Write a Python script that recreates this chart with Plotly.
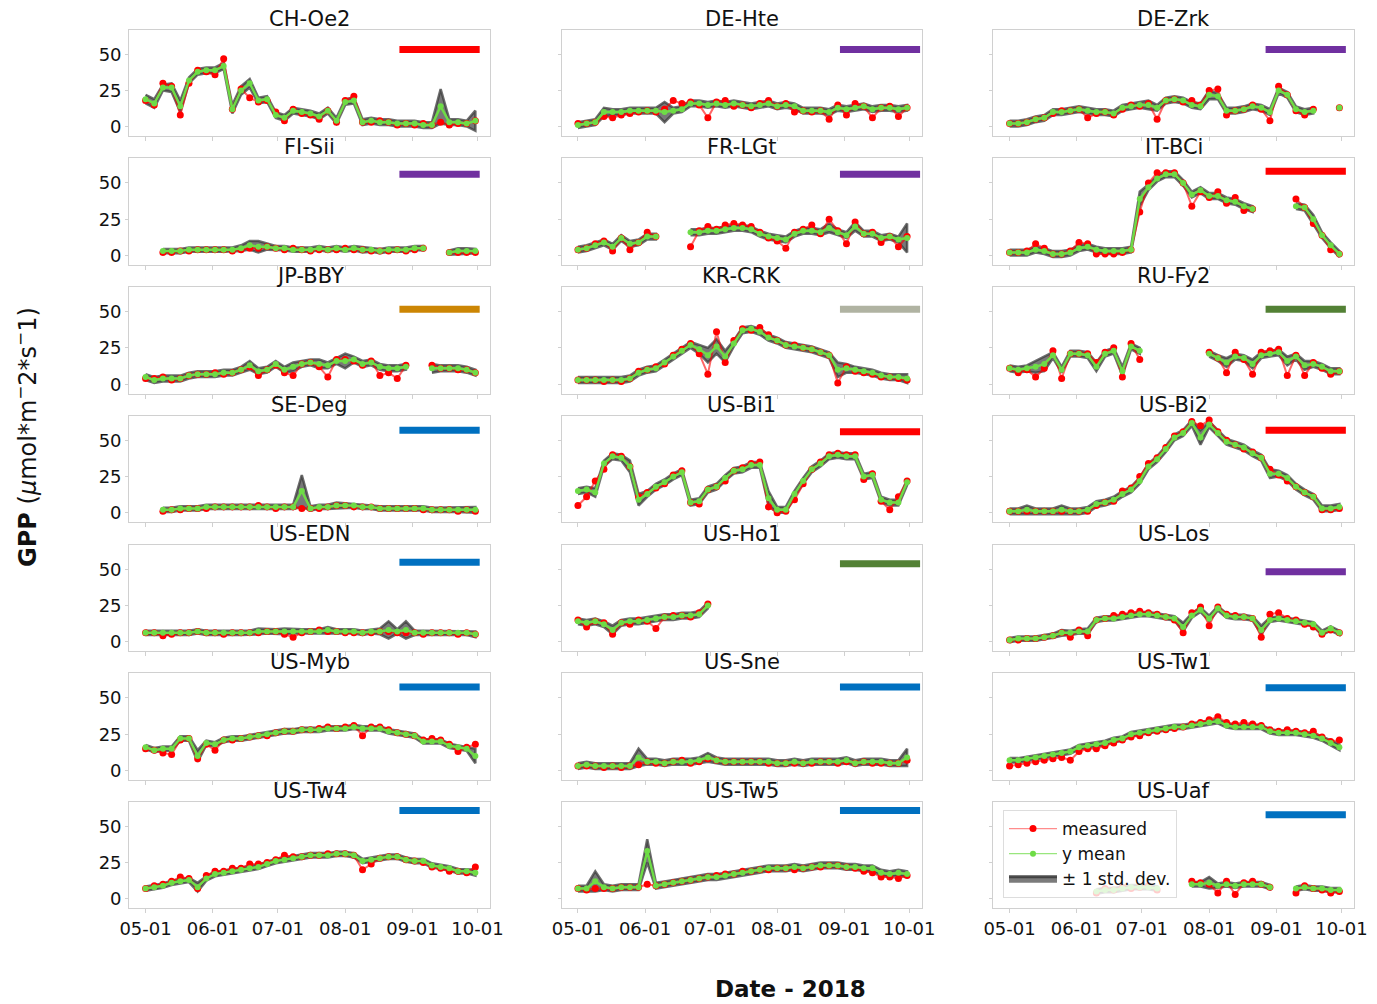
import plotly.graph_objects as go
import pandas as pd

N = None
W, H = 1377, 1004

# ---------------- data (4-day sampling, 2018-05-01 .. 2018-09-30) ----------------
dates = pd.date_range('2018-05-01', '2018-09-30', freq='4D')

sites = ['CH-Oe2', 'DE-Hte', 'DE-Zrk', 'FI-Sii', 'FR-LGt', 'IT-BCi', 'JP-BBY',
         'KR-CRK', 'RU-Fy2', 'SE-Deg', 'US-Bi1', 'US-Bi2', 'US-EDN', 'US-Ho1',
         'US-Los', 'US-Myb', 'US-Sne', 'US-Tw1', 'US-Tw4', 'US-Tw5', 'US-Uaf']

ch_oe2_meas = [18,15,30,28,8,30,39,38,36,47,12,26,20,17,18,10,4,12,9,8,5,11,3,18,21,3,3,4,3,1,2,1,2,1,3,1,2,2,4]
ch_oe2_mean = [19,16,27,27,14,32,38,39,39,42,12,25,30,18,19,8,6,11,10,9,7,11,4,17,18,3,4,3,3,2,2,2,1,1,14,3,3,2,4]
ch_oe2_std = [3,3,2,3,4,2,2,2,2,2,3,3,3,2,2,2,2,2,2,2,2,2,2,2,2,2,2,2,2,2,2,2,2,2,12,2,2,2,7]

de_hte_meas = [2,2,3,7,6,8,9,10,11,10,12,18,16,17,15,6,17,18,14,15,13,16,18,14,16,10,11,10,11,5,15,8,16,14,6,13,14,7,13]
de_hte_mean = [1,2,3,10,10,10,11,11,11,11,10,11,12,16,16,15,16,15,16,15,14,15,16,14,15,14,11,11,11,10,13,12,13,14,12,13,13,12,13]
de_hte_std = [2,2,2,3,2,2,2,2,2,2,7,2,2,2,2,2,2,2,2,2,2,2,2,2,2,2,2,2,2,2,2,2,2,2,2,2,2,2,2]

de_zrk_meas = [2,2,3,5,6,9,11,11,12,6,9,10,8,12,15,14,16,5,18,19,17,18,15,25,26,8,11,12,15,12,4,28,22,11,8,12,N,N,13]
de_zrk_mean = [2,2,3,5,6,10,10,11,12,11,10,10,9,13,14,15,15,13,18,19,18,15,14,22,21,11,11,12,14,13,10,25,22,12,10,11,N,N,13]
de_zrk_std = [2,2,2,2,2,2,2,2,2,2,2,2,2,2,2,2,3,2,2,2,2,2,2,3,2,2,2,2,2,2,2,2,2,2,2,2,2,2,2]

fi_sii_meas = [N,N,2,2,3,3,4,4,4,4,3,4,5,5,6,5,4,5,4,3,4,4,4,5,4,4,3,3,3,4,3,4,5,N,N,2,2,2,2]
fi_sii_mean = [N,N,3,3,3,4,4,4,4,4,4,5,7,6,6,5,5,4,4,4,5,4,5,4,5,4,4,3,4,4,4,5,5,N,N,2,3,3,3]
fi_sii_std = [2,2,1.5,1.5,1.5,1.5,1.5,1.5,1.5,1.5,1.5,2,3,4,2,1.5,1.5,1.5,1.5,1.5,1.5,1.5,1.5,1.5,1.5,2,1.5,1.5,1.5,1.5,1.5,1.5,1.5,1.5,1.5,1.5,2,2,1.5]

fr_lgt_meas = [4,5,8,10,3,12,4,9,16,13,N,N,N,6,17,20,18,21,22,21,20,16,12,10,5,16,18,21,15,25,17,8,23,15,16,9,13,6,13]
fr_lgt_mean = [4,5,7,9,6,12,8,9,13,13,N,N,N,16,16,17,17,18,19,19,18,15,13,12,11,15,17,17,16,19,16,14,20,15,15,12,13,11,12]
fr_lgt_std = [2,2,2,2,2,2,2,2,2,2,2,2,2,2,2,2,2,2,2,2,2,2,2,2,2,2,2,2,2,3,2,2,3,2,2,2,2,2,10]

it_bci_meas = [2,2,3,8,5,1,1,3,9,8,1,1,1,2,4,30,50,57,57,57,50,34,44,40,44,36,40,31,32,N,N,N,N,39,33,22,14,4,1]
it_bci_mean = [2,2,2,4,3,1,1,2,5,6,4,3,3,3,4,39,47,53,56,56,50,42,45,41,41,38,37,34,32,N,N,N,N,34,33,25,14,7,1]
it_bci_std = [2,2,2,2,2,2,2,2,2,2,2,2,2,2,2,5,2,2,2,2,2,2,2,2,2,2,2,2,2,2,2,2,2,2,2,3,2,2,2]

jp_bby_meas = [4,4,5,3,4,6,7,7,8,7,8,10,12,6,10,13,8,6,14,15,12,5,17,17,16,13,16,6,8,4,13,N,N,13,11,11,10,10,8]
jp_bby_mean = [5,3,4,4,4,6,7,7,7,8,8,10,13,9,10,14,10,12,14,15,14,13,16,16,17,14,15,12,11,11,12,N,N,11,11,11,11,10,8]
jp_bby_std = [2,2,2,2,2,2,2,2,2,2,2,2,3,2,2,2,2,3,2,2,3,2,2,5,2,2,2,2,2,2,2,2,2,3,2,2,2,2,2]

kr_crk_meas = [3,3,3,2,3,2,4,9,10,12,14,20,24,28,21,7,36,15,30,38,37,39,34,30,27,27,25,24,22,20,1,12,9,8,7,5,5,4,3]
kr_crk_mean = [3,3,3,3,3,3,4,8,10,11,15,19,23,27,24,20,26,19,28,37,38,36,32,30,27,26,25,24,22,20,10,11,10,9,8,6,5,5,4]
kr_crk_std = [2,2,2,2,2,2,2,2,2,2,2,2,2,2,3,5,5,4,2,2,2,2,2,2,2,2,2,2,2,2,5,3,2,2,2,2,2,2,3]

ru_fy2_meas = [11,8,10,5,11,23,4,21,21,21,15,22,25,5,28,17,N,N,N,N,N,N,N,22,18,8,22,17,7,22,23,24,6,20,6,15,11,7,9]
ru_fy2_mean = [11,10,11,12,14,20,10,21,21,20,12,21,23,9,26,23,N,N,N,N,N,N,N,21,18,15,19,18,14,20,21,22,16,19,13,14,12,9,9]
ru_fy2_std = [2,2,2,4,5,2,2,2,2,2,3,2,2,3,2,2,2,2,2,2,2,2,2,2,2,3,2,2,3,2,2,2,3,2,3,2,2,2,2]

se_deg_meas = [N,N,1,2,2,3,3,3,4,4,4,4,4,5,4,3,4,4,3,3,3,4,5,5,4,4,4,3,3,3,3,3,2,2,2,2,1,2,1]
se_deg_mean = [N,N,2,2,3,3,3,4,4,4,4,4,4,4,4,4,4,4,15,3,4,4,5,5,5,4,4,3,3,3,3,3,3,2,2,2,2,2,2]
se_deg_std = [1.5,1.5,1.5,1.5,1.5,1.5,1.5,1.5,1.5,1.5,1.5,1.5,1.5,1.5,1.5,1.5,1.5,1.5,11,1.5,1.5,1.5,2,1.5,1.5,1.5,1.5,1.5,1.5,1.5,1.5,1.5,1.5,1.5,1.5,1.5,1.5,1.5,2]

us_bi1_meas = [5,11,22,30,40,39,32,11,14,17,20,26,29,7,6,16,18,22,29,31,34,35,4,0,1,9,20,30,35,40,41,40,40,23,27,8,2,11,22]
us_bi1_mean = [15,16,14,34,39,38,32,9,13,18,21,25,28,7,8,16,18,24,29,30,33,33,10,2,2,13,22,30,34,39,40,39,39,25,26,9,7,7,21]
us_bi1_std = [2,2,3,2,2,2,4,4,2,2,2,2,2,2,2,2,2,2,2,2,2,2,5,2,2,2,2,2,2,2,2,2,2,2,2,2,2,2,2]

us_bi2_meas = [1,1,1,1,1,1,1,1,1,1,5,7,8,15,17,25,34,38,45,53,56,63,60,64,56,50,47,44,42,38,30,26,22,18,14,11,2,2,3]
us_bi2_mean = [1,1,2,1,1,1,2,1,1,2,6,7,9,13,16,22,32,37,44,52,55,62,52,61,55,49,47,45,41,38,27,27,24,18,14,11,3,3,4]
us_bi2_std = [2,2,3,2,2,2,3,2,2,2,2,2,2,2,2,2,2,2,2,2,2,2,5,2,2,2,2,2,2,2,3,2,2,2,2,2,2,2,2]

us_edn_meas = [6,6,4,5,6,6,7,6,6,5,6,6,6,6,7,7,5,3,6,7,8,7,7,6,6,6,6,7,7,6,6,6,5,6,6,6,5,6,5]
us_edn_mean = [6,6,6,6,6,6,7,6,6,6,6,6,6,7,7,7,7,7,7,7,7,8,7,7,7,6,7,7,8,7,8,6,6,6,6,6,6,6,5]
us_edn_std = [1.5,1.5,1.5,1.5,1.5,1.5,1.5,1.5,1.5,1.5,1.5,1.5,1.5,2,1.5,1.5,2,1.5,1.5,1.5,1.5,2,1.5,1.5,1.5,1.5,1.5,2,6,1.5,6,1.5,1.5,1.5,1.5,1.5,1.5,1.5,2]

us_ho1_meas = [15,10,14,13,5,13,12,15,14,9,17,18,18,17,20,26] + [N] * 23
us_ho1_mean = [14,13,14,12,8,13,14,14,15,16,17,17,18,18,19,25] + [N] * 23
us_ho1_std = [2,2,2,2,3,2,2,2,2,2,2,2,2,2,2,2] + [N] * 23

us_los_meas = [1,1,2,2,3,4,6,3,8,4,15,16,18,19,20,21,20,19,17,15,6,20,24,11,24,19,18,17,16,3,19,20,16,15,12,10,5,8,6]
us_los_mean = [1,2,2,2,3,4,6,6,7,7,15,16,16,17,18,19,19,18,17,16,10,18,22,16,23,18,17,17,16,8,15,16,15,14,13,12,6,9,6]
us_los_std = [1.5,1.5,1.5,1.5,1.5,1.5,2,1.5,1.5,2,1.5,1.5,1.5,1.5,1.5,1.5,1.5,1.5,1.5,1.5,3,1.5,1.5,2,1.5,1.5,1.5,1.5,1.5,3,1.5,1.5,1.5,1.5,1.5,1.5,1.5,1.5,1.5]

us_myb_meas = [15,14,12,11,21,22,8,18,14,21,21,22,23,24,24,26,27,27,28,28,29,30,29,30,31,24,30,30,28,26,25,24,21,22,21,18,13,16,18]
us_myb_mean = [16,14,15,15,22,22,10,19,18,21,22,22,23,24,25,26,27,27,28,28,28,29,29,29,30,29,29,29,27,26,25,24,20,20,20,17,16,15,10]
us_myb_std = [1.5,1.5,1.5,1.5,1.5,1.5,4,1.5,1.5,1.5,1.5,1.5,1.5,1.5,1.5,1.5,1.5,1.5,1.5,1.5,1.5,1.5,1.5,1.5,1.5,1.5,1.5,1.5,1.5,1.5,1.5,1.5,1.5,1.5,1.5,1.5,1.5,1.5,5]

us_sne_meas = [3,3,3,2,3,2,3,4,6,5,5,6,7,5,6,8,7,6,6,6,6,6,5,5,5,5,5,5,6,6,5,6,5,6,5,5,5,5,7]
us_sne_mean = [3,4,3,3,3,3,3,9,6,6,5,6,6,6,7,9,7,6,6,6,6,6,6,5,5,6,5,6,6,6,6,7,5,6,6,6,5,5,9]
us_sne_std = [2,2,2,2,2,2,2,6,2,2,2,2,2,2,2,3,2,2,2,2,2,2,2,2,2,2,2,2,2,2,2,2,2,2,2,2,2,2,6]

us_tw1_meas = [3,4,5,6,7,8,9,7,13,15,15,17,19,21,23,24,26,27,28,29,30,32,33,35,37,33,32,33,32,31,28,27,28,27,26,27,23,20,21]
us_tw1_mean = [7,7,8,9,10,11,12,13,16,17,18,19,21,22,25,26,27,28,29,30,30,31,32,33,34,31,30,30,30,30,27,26,26,26,25,24,22,19,16]
us_tw1_std = [1.5,1.5,1.5,1.5,1.5,1.5,1.5,1.5,1.5,1.5,1.5,1.5,1.5,1.5,1.5,1.5,1.5,1.5,1.5,1.5,1.5,1.5,1.5,1.5,1.5,1.5,1.5,1.5,1.5,1.5,1.5,1.5,1.5,1.5,1.5,1.5,1.5,1.5,2]

us_tw4_meas = [7,9,10,12,15,14,7,16,19,19,21,21,24,24,25,27,30,29,29,30,30,31,31,31,30,20,24,28,29,29,27,26,25,22,21,19,19,18,22]
us_tw4_mean = [7,8,9,11,12,13,8,14,17,18,19,20,21,22,24,26,27,28,29,30,30,30,31,31,30,26,27,28,29,29,27,26,26,23,22,21,19,19,18]
us_tw4_std = [1.5,1.5,1.5,1.5,1.5,1.5,3,1.5,1.5,1.5,1.5,1.5,1.5,1.5,1.5,1.5,1.5,1.5,1.5,1.5,1.5,1.5,1.5,1.5,1.5,1.5,1.5,1.5,1.5,1.5,1.5,1.5,1.5,1.5,1.5,1.5,1.5,1.5,2]

us_tw5_meas = [7,6,7,7,7,8,8,8,10,9,10,11,12,13,14,15,16,17,17,19,19,20,20,21,21,20,21,22,22,23,23,22,21,19,18,15,15,14,16]
us_tw5_mean = [7,7,12,8,7,8,8,8,33,9,10,11,12,13,14,15,15,16,17,18,19,20,21,21,21,22,21,22,23,23,23,22,22,21,21,18,17,18,17]
us_tw5_std = [2,2,7,2,2,2,2,2,8,2,2,2,2,2,2,2,2,2,2,2,2,2,2,2,2,2,2,2,2,2,2,2,2,2,2,2,2,2,2]

us_uaf_meas = [N,N,N,N,N,N,N,N,N,N,4,7,6,8,7,8,9,6,N,N,N,12,11,10,4,12,3,11,12,10,8,N,N,4,9,7,6,4,5]
us_uaf_mean = [N,N,N,N,N,N,N,N,N,N,5,6,6,7,8,8,8,7,N,N,N,10,10,11,9,10,9,10,10,10,8,N,N,7,8,7,7,6,6]
us_uaf_std = [1.5,1.5,1.5,1.5,1.5,1.5,1.5,1.5,1.5,1.5,1.5,1.5,1.5,1.5,1.5,1.5,1.5,1.5,1.5,1.5,1.5,1.5,1.5,4,1.5,1.5,1.5,1.5,1.5,1.5,1.5,1.5,1.5,1.5,1.5,1.5,1.5,1.5,1.5]

measured = [ch_oe2_meas, de_hte_meas, de_zrk_meas, fi_sii_meas, fr_lgt_meas, it_bci_meas,
            jp_bby_meas, kr_crk_meas, ru_fy2_meas, se_deg_meas, us_bi1_meas, us_bi2_meas,
            us_edn_meas, us_ho1_meas, us_los_meas, us_myb_meas, us_sne_meas, us_tw1_meas,
            us_tw4_meas, us_tw5_meas, us_uaf_meas]
y_mean = [ch_oe2_mean, de_hte_mean, de_zrk_mean, fi_sii_mean, fr_lgt_mean, it_bci_mean,
          jp_bby_mean, kr_crk_mean, ru_fy2_mean, se_deg_mean, us_bi1_mean, us_bi2_mean,
          us_edn_mean, us_ho1_mean, us_los_mean, us_myb_mean, us_sne_mean, us_tw1_mean,
          us_tw4_mean, us_tw5_mean, us_uaf_mean]
y_std = [ch_oe2_std, de_hte_std, de_zrk_std, fi_sii_std, fr_lgt_std, it_bci_std,
         jp_bby_std, kr_crk_std, ru_fy2_std, se_deg_std, us_bi1_std, us_bi2_std,
         us_edn_std, us_ho1_std, us_los_std, us_myb_std, us_sne_std, us_tw1_std,
         us_tw4_std, us_tw5_std, us_uaf_std]

# class bar (colour + level) per site
bar_levels = [53.5, 53.5, 53.5, 56, 56, 58, 51.5, 51.5, 51.5, 57, 56, 57,
              55, 54, 48.5, 57.5, 57.5, 57, 61, 61, 58]
bar_colors = ['#ff0000', '#7030a0', '#7030a0', '#7030a0', '#7030a0', '#ff0000',
              '#cc8604', '#b0b3a2', '#538135', '#0070c0', '#ff0000', '#ff0000',
              '#0070c0', '#538135', '#7030a0', '#0070c0', '#0070c0', '#0070c0',
              '#0070c0', '#0070c0', '#0070c0']
bar_start = ['2018-08-26', '2018-08-30', '2018-08-27']
bar_end = ['2018-10-02', '2018-10-06', '2018-10-03']

x_ticks = ['2018-05-01', '2018-06-01', '2018-07-01', '2018-08-01', '2018-09-01', '2018-10-01']
y_ticks = [0, 25, 50]

# ---------------- layout geometry (pixels) ----------------
col_px = [(129.3, 490.0), (561.7, 921.7), (993.3, 1354.0)]
row_px = [(30, 136), (158.3, 265), (286.5, 394), (415.7, 522.3),
          (545, 651), (673.3, 780), (801.7, 908.3)]
x_range = ['2018-04-23 12:00', '2018-10-06 18:00']
y_range = [-6.6, 67]

FONT = 'DejaVu Sans'
SPINE = '#d0d0d0'
RED = '#ff0000'
GREEN = 'rgb(110,220,70)'
BAND_FILL = 'rgba(75,75,75,0.75)'
BAND_EDGE = 'rgba(60,60,60,0.75)'


def band_xy(x, mean, std):
    xs, ys = [], []
    segs, cur = [], []
    for xi, m, s in zip(x, mean, std):
        if m is None:
            if cur:
                segs.append(cur)
            cur = []
        else:
            cur.append((xi, m, s if s is not None else 0))
    if cur:
        segs.append(cur)
    for seg in segs:
        xs += [p[0] for p in seg] + [p[0] for p in reversed(seg)] + [None]
        ys += [p[1] + p[2] for p in seg] + [p[1] - p[2] for p in reversed(seg)] + [None]
    return xs, ys


fig = go.Figure()
annotations = []
shapes = []
layout = {}

for k, site in enumerate(sites):
    r, c = divmod(k, 3)
    ax = k + 1
    xa = 'x' if ax == 1 else f'x{ax}'
    ya = 'y' if ax == 1 else f'y{ax}'
    xkey = 'xaxis' if ax == 1 else f'xaxis{ax}'
    ykey = 'yaxis' if ax == 1 else f'yaxis{ax}'
    x0, x1 = col_px[c]
    t, b = row_px[r]
    layout[xkey] = dict(
        domain=[x0 / W, x1 / W], anchor=ya, range=x_range, type='date',
        tickvals=x_ticks, tickformat='%m-%d', showticklabels=(r == 6),
        ticks='outside', ticklen=4, tickcolor=SPINE, showgrid=False, zeroline=False,
        showline=True, mirror=True, linecolor=SPINE, linewidth=1.3, automargin=False,
        tickfont=dict(family=FONT, size=18, color='#111'))
    layout[ykey] = dict(
        domain=[1 - b / H, 1 - t / H], anchor=xa, range=y_range,
        tickvals=y_ticks, showticklabels=(c == 0),
        ticks='outside', ticklen=3, tickcolor=SPINE, showgrid=False, zeroline=False,
        showline=True, mirror=True, linecolor=SPINE, linewidth=1.3, automargin=False,
        tickfont=dict(family=FONT, size=18, color='#111'))

    bx, by = band_xy(list(dates), y_mean[k], y_std[k])
    fig.add_trace(go.Scatter(
        x=bx, y=by, xaxis=xa, yaxis=ya, mode='lines', fill='toself',
        fillcolor=BAND_FILL, line=dict(color=BAND_EDGE, width=2.5),
        showlegend=False, hoverinfo='skip'))
    fig.add_trace(go.Scatter(
        x=dates, y=measured[k], xaxis=xa, yaxis=ya, mode='lines+markers',
        line=dict(color='rgba(255,0,0,0.6)', width=2),
        marker=dict(color=RED, size=7), name='measured', showlegend=False))
    fig.add_trace(go.Scatter(
        x=dates, y=y_mean[k], xaxis=xa, yaxis=ya, mode='lines+markers',
        line=dict(color=GREEN, width=2.5),
        marker=dict(color=GREEN, size=6), name='y mean', showlegend=False))

    shapes.append(dict(type='line', xref=xa, yref=ya,
                       x0=bar_start[c], x1=bar_end[c],
                       y0=bar_levels[k], y1=bar_levels[k],
                       line=dict(color=bar_colors[k], width=7)))

    annotations.append(dict(
        text=site, x=(x0 + x1) / 2 / W, y=1 - (t - 11) / H, xref='paper', yref='paper',
        xanchor='center', yanchor='middle', showarrow=False,
        font=dict(family=FONT, size=21, color='#111')))

# legend entries (thin-line style like the reference legend)
fig.add_trace(go.Scatter(x=[None], y=[None], mode='lines+markers', name='measured',
                         line=dict(color='rgba(255,0,0,0.45)', width=1.2),
                         marker=dict(color=RED, size=7), legendrank=1))
fig.add_trace(go.Scatter(x=[None], y=[None], mode='lines+markers', name='y mean',
                         line=dict(color='rgba(110,220,70,0.7)', width=1.2),
                         marker=dict(color=GREEN, size=6), legendrank=2))
fig.add_trace(go.Scatter(x=[None], y=[None], mode='lines', fill='toself', name='± 1 std. dev.',
                         fillcolor='rgba(100,100,100,0.85)',
                         line=dict(color='rgba(60,60,60,0.9)', width=3), legendrank=3))

annotations.append(dict(
    text='<b>GPP</b> (<i>μ</i>mol*m<sup>−</sup>2*s<sup>−</sup>1)',
    x=26 / W, y=1 - 437 / H, xref='paper', yref='paper', textangle=-90,
    xanchor='center', yanchor='middle', showarrow=False,
    font=dict(family=FONT, size=24, color='#111')))
annotations.append(dict(
    text='<b>Date - 2018</b>', x=790 / W, y=1 - 989 / H, xref='paper', yref='paper',
    xanchor='center', yanchor='middle', showarrow=False,
    font=dict(family=FONT, size=23, color='#111')))

fig.update_layout(
    width=W, height=H, margin=dict(l=0, r=0, t=0, b=0, autoexpand=False),
    paper_bgcolor='white', plot_bgcolor='white',
    font=dict(family=FONT, size=18, color='#111'),
    annotations=annotations, shapes=shapes,
    legend=dict(x=1003 / W, y=1 - 810 / H, xanchor='left', yanchor='top',
                bgcolor='rgba(255,255,255,0.8)', bordercolor='#dddddd', borderwidth=1,
                font=dict(family=FONT, size=17, color='#111'), itemwidth=48,
                tracegroupgap=0),
    **layout)

fig.write_html('out.html')
